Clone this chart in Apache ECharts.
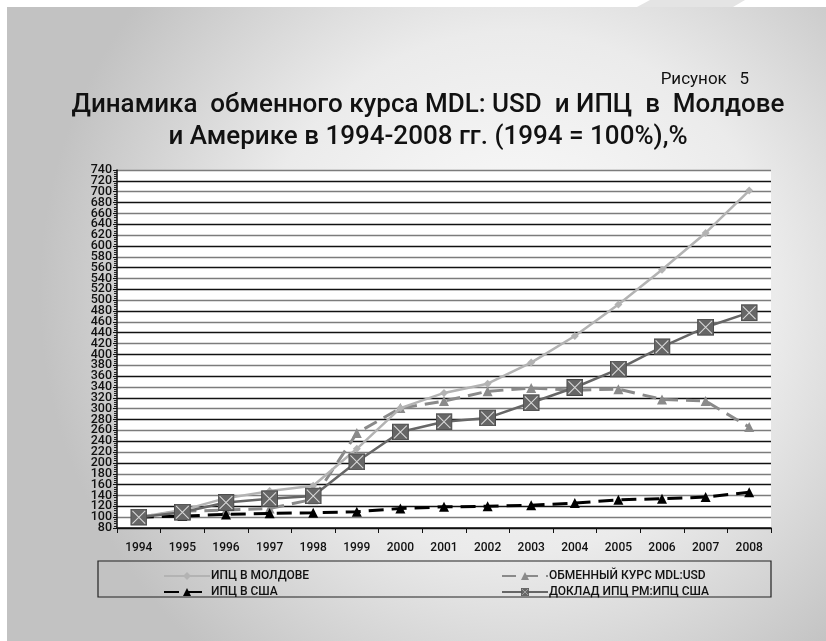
<!DOCTYPE html>
<html>
<head>
    <meta charset="utf-8">
    <title>Динамика обменного курса MDL:USD и ИПЦ</title>
    <script src="https://cdn.jsdelivr.net/npm/echarts@6/dist/echarts.min.js"></script>
    <style>
        html, body {
            margin: 0;
            width: 100%;
            height: 100%;
            background: #fff;
        }

        #main {
            width: 826px;
            height: 641px;
        }
    </style>
</head>
<body>
<div id="main"></div>
<script type="text/javascript">
    var myChart = echarts.init(document.getElementById('main'));

    // годы
    const years = ['1994', '1995', '1996', '1997', '1998', '1999', '2000', '2001',
        '2002', '2003', '2004', '2005', '2006', '2007', '2008'];
    // значения, %, 1994 = 100
    const cpiMoldova = [100, 113, 135, 148, 158, 226, 301, 329, 346, 385, 434, 492, 556, 624, 702];
    const exchangeRate = [100, 111, 113, 116, 133, 255, 301, 314, 332, 338, 334, 336, 317, 314, 266];
    const cpiUsa = [100, 102, 105, 107, 108, 110, 116, 119, 120, 122, 126, 132, 134, 137, 146];
    const cpiRatio = [100, 109, 127, 134, 139, 202, 257, 276, 283, 311, 339, 373, 414, 450, 477];

    const names = ['ИПЦ В МОЛДОВЕ', 'ОБМЕННЫЙ КУРС MDL:USD', 'ИПЦ В США', 'ДОКЛАД ИПЦ РМ:ИПЦ США'];

    const yMin = 80, yMax = 740, yStep = 20;

    const font = 'Roboto, "Noto Sans", sans-serif';

    // квадрат с крестиком
    const boxSvg = '<svg xmlns="http://www.w3.org/2000/svg" width="32" height="32">' +
        '<rect x="1" y="1" width="30" height="30" fill="#666" stroke="#4c4c4c" stroke-width="2"/>' +
        '<path d="M4 4 L28 28 M28 4 L4 28" stroke="#d8d8d8" stroke-width="2"/></svg>';
    const boxSymbol = 'image://data:image/svg+xml;charset=utf-8,' + encodeURIComponent(boxSvg);

    const legendText = {fontFamily: font, fontSize: 12, fontWeight: 500, color: '#111', lineHeight: 14, padding: [0, 0, 0, -4]};
    const yLabel = {margin: 5, fontFamily: font, fontSize: 12.5, fontWeight: 500, lineHeight: 10, color: '#111'};

    var option = {
        backgroundColor: '#fff',
        animation: false,
        textStyle: {
            fontFamily: font
        },
        title: [{
            text: 'Рисунок   5',
            right: 72,
            top: 66,
            textStyle: {
                fontFamily: font,
                fontSize: 17,
                fontWeight: 'normal',
                color: '#111'
            }
        }, {
            text: 'Динамика  обменного курса MDL: USD  и ИПЦ  в  Молдове\nи Америке в 1994-2008 гг. (1994 = 100%),%',
            left: 423,
            top: 84,
            textAlign: 'center',
            textStyle: {
                fontFamily: font,
                fontSize: 26,
                fontWeight: 500,
                lineHeight: 32,
                color: '#111'
            }
        }],
        graphic: [{
            type: 'rect',
            z: -10,
            silent: true,
            shape: {x: 7, y: 7, width: 819, height: 634},
            style: {
                fill: {
                    type: 'radial', x: 0.62, y: 0.45, r: 0.75,
                    colorStops: [
                        {offset: 0, color: '#fdfdfd'},
                        {offset: 0.55, color: '#ebebeb'},
                        {offset: 1, color: '#c2c2c2'}
                    ]
                }
            }
        }, {
            type: 'polygon',
            z: -9,
            silent: true,
            shape: {points: [[650, 0], [745, 0], [733, 7], [637, 7]]},
            style: {fill: '#e4e4e4'}
        }, {
            type: 'rect',
            silent: true,
            shape: {x: 98, y: 561, width: 673, height: 36},
            style: {fill: 'none', stroke: '#222', lineWidth: 1.2}
        }],
        legend: [{
            data: [names[0], names[2]],
            orient: 'vertical',
            left: 158,
            top: 564,
            itemWidth: 46,
            itemHeight: 10,
            itemGap: 2,
            textStyle: legendText
        }, {
            data: [names[1], names[3]],
            orient: 'vertical',
            left: 496,
            top: 564,
            itemWidth: 46,
            itemHeight: 10,
            itemGap: 2,
            textStyle: legendText
        }],
        grid: {
            left: 117,
            right: 55,
            top: 170,
            bottom: 113,
            show: true,
            backgroundColor: '#fff',
            borderWidth: 0
        },
        xAxis: {
            type: 'category',
            data: years,
            boundaryGap: true,
            axisLine: {lineStyle: {color: '#111', width: 1.5}},
            axisTick: {show: true, length: 5, lineStyle: {color: '#111'}},
            axisLabel: {
                margin: 14,
                fontFamily: font,
                fontSize: 12,
                fontWeight: 500,
                color: '#111'
            }
        },
        yAxis: [{
            type: 'value',
            min: yMin,
            max: yMax,
            interval: yStep,
            axisLine: {show: true, lineStyle: {color: '#111', width: 1.5}},
            axisTick: {show: true, length: 4, lineStyle: {color: '#111'}},
            minorTick: {show: true, splitNumber: 5, length: 3, lineStyle: {color: '#222'}},
            axisLabel: Object.assign({showMinLabel: false, showMaxLabel: false}, yLabel),
            splitLine: {
                show: true,
                lineStyle: {color: ['#111', '#7c7c7c'], width: 1.3}
            }
        }, {
            // только крайние подписи 80 и 740
            type: 'value',
            position: 'left',
            min: yMin,
            max: yMax,
            interval: yStep,
            axisLine: {show: false},
            axisTick: {show: false},
            splitLine: {show: false},
            axisLabel: Object.assign({
                showMinLabel: true,
                showMaxLabel: true,
                formatter: function (v) {
                    return (v === yMin || v === yMax) ? String(v) : '';
                }
            }, yLabel)
        }],
        series: [{
            name: names[1],
            type: 'line',
            data: exchangeRate,
            z: 3,
            symbol: 'triangle',
            symbolSize: 10,
            showAllSymbol: true,
            itemStyle: {color: '#8a8a8a'},
            lineStyle: {color: '#8a8a8a', width: 3, type: [14, 8]}
        }, {
            name: names[0],
            type: 'line',
            data: cpiMoldova,
            z: 4,
            symbol: 'diamond',
            symbolSize: 8,
            itemStyle: {color: '#b3b3b3'},
            lineStyle: {color: '#b3b3b3', width: 2.5}
        }, {
            name: names[2],
            type: 'line',
            data: cpiUsa,
            z: 5,
            symbol: 'triangle',
            symbolSize: 10,
            itemStyle: {color: '#000'},
            lineStyle: {color: '#000', width: 3, type: [15, 8]}
        }, {
            name: names[3],
            type: 'line',
            data: cpiRatio,
            z: 6,
            symbol: boxSymbol,
            symbolSize: 17,
            itemStyle: {color: '#666'},
            lineStyle: {color: '#666', width: 2.5}
        }]
    };

    myChart.setOption(option);
</script>
</body>
</html>
